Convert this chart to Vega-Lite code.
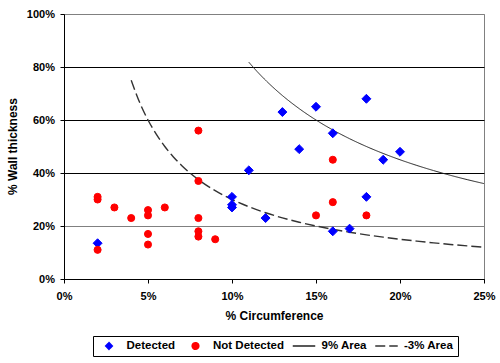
{
  "$schema": "https://vega.github.io/schema/vega-lite/v6.json",
  "width": 420,
  "height": 265,
  "autosize": {"type": "none"},
  "padding": {"left": 64, "top": 14, "right": 16, "bottom": 84},
  "background": "white",
  "config": {
    "view": {"stroke": "#808080", "strokeWidth": 1},
    "font": "Liberation Sans",
    "axis": {
      "labelFont": "Liberation Sans", "labelFontWeight": "bold", "labelFontSize": 11, "labelColor": "black",
      "titleFont": "Liberation Sans", "titleFontWeight": "bold", "titleFontSize": 12, "titleColor": "black",
      "domainColor": "black", "tickColor": "black", "tickSize": 4, "labelFlush": false
    }
  },
  "datasets": {
    "pts": [
      {"circ": 0.02, "wall": 0.135, "series": "Detected"},
      {"circ": 0.10, "wall": 0.31, "series": "Detected"},
      {"circ": 0.10, "wall": 0.28, "series": "Detected"},
      {"circ": 0.10, "wall": 0.27, "series": "Detected"},
      {"circ": 0.11, "wall": 0.41, "series": "Detected"},
      {"circ": 0.12, "wall": 0.23, "series": "Detected"},
      {"circ": 0.13, "wall": 0.63, "series": "Detected"},
      {"circ": 0.14, "wall": 0.49, "series": "Detected"},
      {"circ": 0.15, "wall": 0.65, "series": "Detected"},
      {"circ": 0.16, "wall": 0.55, "series": "Detected"},
      {"circ": 0.16, "wall": 0.18, "series": "Detected"},
      {"circ": 0.17, "wall": 0.19, "series": "Detected"},
      {"circ": 0.18, "wall": 0.68, "series": "Detected"},
      {"circ": 0.18, "wall": 0.31, "series": "Detected"},
      {"circ": 0.19, "wall": 0.45, "series": "Detected"},
      {"circ": 0.20, "wall": 0.48, "series": "Detected"},
      {"circ": 0.02, "wall": 0.31, "series": "Not Detected"},
      {"circ": 0.02, "wall": 0.30, "series": "Not Detected"},
      {"circ": 0.02, "wall": 0.11, "series": "Not Detected"},
      {"circ": 0.03, "wall": 0.27, "series": "Not Detected"},
      {"circ": 0.04, "wall": 0.23, "series": "Not Detected"},
      {"circ": 0.05, "wall": 0.26, "series": "Not Detected"},
      {"circ": 0.05, "wall": 0.24, "series": "Not Detected"},
      {"circ": 0.05, "wall": 0.17, "series": "Not Detected"},
      {"circ": 0.05, "wall": 0.13, "series": "Not Detected"},
      {"circ": 0.06, "wall": 0.27, "series": "Not Detected"},
      {"circ": 0.08, "wall": 0.56, "series": "Not Detected"},
      {"circ": 0.08, "wall": 0.37, "series": "Not Detected"},
      {"circ": 0.08, "wall": 0.23, "series": "Not Detected"},
      {"circ": 0.08, "wall": 0.18, "series": "Not Detected"},
      {"circ": 0.08, "wall": 0.16, "series": "Not Detected"},
      {"circ": 0.09, "wall": 0.15, "series": "Not Detected"},
      {"circ": 0.15, "wall": 0.24, "series": "Not Detected"},
      {"circ": 0.16, "wall": 0.45, "series": "Not Detected"},
      {"circ": 0.16, "wall": 0.29, "series": "Not Detected"},
      {"circ": 0.18, "wall": 0.24, "series": "Not Detected"}
    ],
    "curve9": [
      {"circ": 0.11, "wall": 0.8182, "series": "9% Area"},
      {"circ": 0.115, "wall": 0.7826, "series": "9% Area"},
      {"circ": 0.12, "wall": 0.75, "series": "9% Area"},
      {"circ": 0.13, "wall": 0.6923, "series": "9% Area"},
      {"circ": 0.14, "wall": 0.6429, "series": "9% Area"},
      {"circ": 0.15, "wall": 0.6, "series": "9% Area"},
      {"circ": 0.16, "wall": 0.5625, "series": "9% Area"},
      {"circ": 0.17, "wall": 0.5294, "series": "9% Area"},
      {"circ": 0.18, "wall": 0.5, "series": "9% Area"},
      {"circ": 0.19, "wall": 0.4737, "series": "9% Area"},
      {"circ": 0.20, "wall": 0.45, "series": "9% Area"},
      {"circ": 0.21, "wall": 0.4286, "series": "9% Area"},
      {"circ": 0.22, "wall": 0.4091, "series": "9% Area"},
      {"circ": 0.23, "wall": 0.3913, "series": "9% Area"},
      {"circ": 0.24, "wall": 0.375, "series": "9% Area"},
      {"circ": 0.25, "wall": 0.36, "series": "9% Area"}
    ],
    "curve3": [
      {"circ": 0.04, "wall": 0.75, "series": "-3% Area"},
      {"circ": 0.045, "wall": 0.6667, "series": "-3% Area"},
      {"circ": 0.05, "wall": 0.6, "series": "-3% Area"},
      {"circ": 0.055, "wall": 0.5455, "series": "-3% Area"},
      {"circ": 0.06, "wall": 0.5, "series": "-3% Area"},
      {"circ": 0.065, "wall": 0.4615, "series": "-3% Area"},
      {"circ": 0.07, "wall": 0.4286, "series": "-3% Area"},
      {"circ": 0.075, "wall": 0.4, "series": "-3% Area"},
      {"circ": 0.08, "wall": 0.375, "series": "-3% Area"},
      {"circ": 0.09, "wall": 0.3333, "series": "-3% Area"},
      {"circ": 0.10, "wall": 0.3, "series": "-3% Area"},
      {"circ": 0.11, "wall": 0.2727, "series": "-3% Area"},
      {"circ": 0.12, "wall": 0.25, "series": "-3% Area"},
      {"circ": 0.13, "wall": 0.2308, "series": "-3% Area"},
      {"circ": 0.14, "wall": 0.2143, "series": "-3% Area"},
      {"circ": 0.15, "wall": 0.2, "series": "-3% Area"},
      {"circ": 0.16, "wall": 0.1875, "series": "-3% Area"},
      {"circ": 0.17, "wall": 0.1765, "series": "-3% Area"},
      {"circ": 0.18, "wall": 0.1667, "series": "-3% Area"},
      {"circ": 0.19, "wall": 0.1579, "series": "-3% Area"},
      {"circ": 0.20, "wall": 0.15, "series": "-3% Area"},
      {"circ": 0.21, "wall": 0.1429, "series": "-3% Area"},
      {"circ": 0.22, "wall": 0.1364, "series": "-3% Area"},
      {"circ": 0.23, "wall": 0.1304, "series": "-3% Area"},
      {"circ": 0.24, "wall": 0.125, "series": "-3% Area"},
      {"circ": 0.25, "wall": 0.12, "series": "-3% Area"}
    ]
  },
  "encoding": {
    "x": {
      "field": "circ", "type": "quantitative",
      "scale": {"domain": [0, 0.25], "nice": false, "zero": true},
      "axis": {
        "title": "% Circumference", "values": [0, 0.05, 0.1, 0.15, 0.2, 0.25], "format": ".0%",
        "grid": false, "labelPadding": 7, "titleY": 31, "titleBaseline": "top", "titleX": 210
      }
    },
    "y": {
      "field": "wall", "type": "quantitative",
      "scale": {"domain": [0, 1], "nice": false},
      "axis": {
        "title": "% Wall thickness", "values": [0, 0.2, 0.4, 0.6, 0.8, 1], "format": ".0%",
        "grid": true,
        "gridColor": {"condition": {"test": "datum.value >= 1 || (datum.value > 0.1 && datum.value < 0.3)", "value": "#808080"}, "value": "black"},
        "gridOpacity": 1, "gridWidth": 1,
        "labelPadding": 5.5, "titleX": -45, "titleY": 132, "titleBaseline": "bottom"
      }
    }
  },
  "layer": [
    {
      "data": {"name": "curve9"},
      "mark": {"type": "line", "interpolate": "monotone", "strokeWidth": 1},
      "encoding": {
        "stroke": {
          "field": "series", "type": "nominal",
          "scale": {"domain": ["Detected", "Not Detected", "9% Area", "-3% Area"], "range": ["#0000FF", "#FF0000", "#222222", "#333333"]},
          "legend": {
            "orient": "none", "legendX": 29, "legendY": 322, "direction": "horizontal", "columns": 4, "title": null,
            "strokeColor": "black", "padding": 4, "labelFont": "Liberation Sans", "labelFontWeight": "bold",
            "labelFontSize": 11.5, "labelColor": "black", "labelOffset": 11.75, "columnPadding": 7.5, "symbolOffset": 6.25,
            "symbolStrokeWidth": 1.5, "clipHeight": 12, "symbolOpacity": 1,
            "encode": {"symbols": {"update": {"size": {"signal": "datum.index >= 2 ? 506 : 44"}}}}
          }
        },
        "strokeDash": {
          "field": "series", "type": "nominal",
          "scale": {"domain": ["Detected", "Not Detected", "9% Area", "-3% Area"], "range": [[1, 0], [1, 0], [1, 0], [10, 4]]},
          "legend": {
            "orient": "none", "legendX": 29, "legendY": 322, "direction": "horizontal", "columns": 4, "title": null,
            "strokeColor": "black", "padding": 4, "labelFont": "Liberation Sans", "labelFontWeight": "bold",
            "labelFontSize": 11.5, "labelColor": "black", "labelOffset": 11.75, "columnPadding": 7.5, "symbolOffset": 6.25,
            "symbolStrokeWidth": 1.5, "clipHeight": 12, "symbolOpacity": 1,
            "encode": {"symbols": {"update": {"size": {"signal": "datum.index >= 2 ? 506 : 44"}}}}
          }
        }
      }
    },
    {
      "data": {"name": "curve3"},
      "mark": {"type": "line", "interpolate": "monotone", "strokeWidth": 1.4},
      "encoding": {
        "stroke": {"field": "series", "type": "nominal"},
        "strokeDash": {"field": "series", "type": "nominal"}
      }
    },
    {
      "data": {"name": "pts"},
      "mark": {"type": "point", "filled": true, "opacity": 1, "strokeWidth": 1},
      "encoding": {
        "fill": {
          "field": "series", "type": "nominal",
          "scale": {"domain": ["Detected", "Not Detected", "9% Area", "-3% Area"], "range": ["#0000FF", "#FF0000", "#222222", "#333333"]},
          "legend": {
            "orient": "none", "legendX": 29, "legendY": 322, "direction": "horizontal", "columns": 4, "title": null,
            "strokeColor": "black", "padding": 4, "labelFont": "Liberation Sans", "labelFontWeight": "bold",
            "labelFontSize": 11.5, "labelColor": "black", "labelOffset": 11.75, "columnPadding": 7.5, "symbolOffset": 6.25,
            "symbolStrokeWidth": 1.5, "clipHeight": 12, "symbolOpacity": 1,
            "encode": {"symbols": {"update": {"size": {"signal": "datum.index >= 2 ? 506 : 44"}}}}
          }
        },
        "stroke": {"field": "series", "type": "nominal"},
        "shape": {
          "field": "series", "type": "nominal",
          "scale": {"domain": ["Detected", "Not Detected", "9% Area", "-3% Area"], "range": ["diamond", "circle", "stroke", "stroke"]},
          "legend": {
            "orient": "none", "legendX": 29, "legendY": 322, "direction": "horizontal", "columns": 4, "title": null,
            "strokeColor": "black", "padding": 4, "labelFont": "Liberation Sans", "labelFontWeight": "bold",
            "labelFontSize": 11.5, "labelColor": "black", "labelOffset": 11.75, "columnPadding": 7.5, "symbolOffset": 6.25,
            "symbolStrokeWidth": 1.5, "clipHeight": 12, "symbolOpacity": 1,
            "encode": {"symbols": {"update": {"size": {"signal": "datum.index >= 2 ? 506 : 44"}}}}
          }
        },
        "size": {"condition": {"test": "datum.series === 'Detected'", "value": 80}, "value": 50}
      }
    }
  ]
}
